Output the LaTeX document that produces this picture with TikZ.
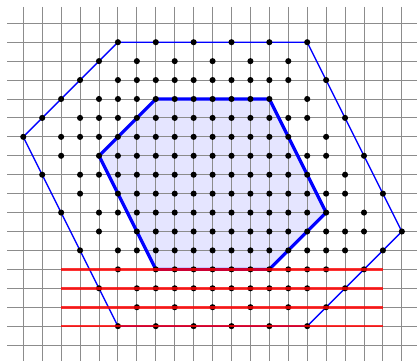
\documentclass[tikz,border=0pt]{standalone}
\begin{document}
\begin{tikzpicture}[x=0.5cm,y=-0.5cm,
  gridline/.style={gray!90,line width=0.7pt},
  latpt/.style={fill=black}]
\useasboundingbox (-1.23,-1.23) rectangle (20.80,17.84);
% outer hexagon
\coordinate (A) at (0,6);
\coordinate (B) at (5,1);
\coordinate (C) at (15,1);
\coordinate (D) at (20,11);
\coordinate (E) at (15,16);
\coordinate (F) at (5,16);
% inner hexagon
\coordinate (P) at (4,7);
\coordinate (Q) at (7,4);
\coordinate (R) at (13,4);
\coordinate (S) at (16,10);
\coordinate (T) at (13,13);
\coordinate (U) at (7,13);

\fill[blue!10] (P) -- (Q) -- (R) -- (S) -- (T) -- (U) -- cycle;

\foreach \i in {0,...,20} \draw[gridline] (\i,-0.86) -- (\i,17.86);
\foreach \j in {0,...,17} \draw[gridline] (-0.86,\j) -- (20.86,\j);

\draw[blue,line width=1pt] (A) -- (B) -- (C) -- (D) -- (E) -- (F) -- cycle;
\draw[blue,line width=2.4pt] (P) -- (Q) -- (R) -- (S) -- (T) -- (U) -- cycle;

% lattice points
\foreach \i in {5,7,...,15} {
  \fill[latpt] (\i,1) circle (2.3pt);
  \fill[latpt] (\i,16) circle (2.3pt);
}
\foreach \i in {4,6,...,14} \fill[latpt] (\i,2) circle (2.3pt);
\foreach \i in {6,8,...,16} \fill[latpt] (\i,15) circle (2.3pt);
\foreach \j/\a/\b/\c/\d in {3/3/5/14/16, 4/2/4/13/15, 5/1/3/15/17, 6/0/2/14/16,
    7/2/4/16/18, 8/1/3/15/17, 9/3/5/17/19, 10/2/4/16/18, 11/4/6/18/20,
    12/3/5/17/19, 13/5/7/16/18, 14/4/6/15/17} {
  \fill[latpt] (\a,\j) circle (2.3pt);
  \foreach \i in {\b,...,\c} \fill[latpt] (\i,\j) circle (2.3pt);
  \fill[latpt] (\d,\j) circle (2.3pt);
}

\foreach \j in {13,...,16} \draw[red,line width=2pt,opacity=0.8] (2,\j) -- (19,\j);
\end{tikzpicture}
\end{document}
